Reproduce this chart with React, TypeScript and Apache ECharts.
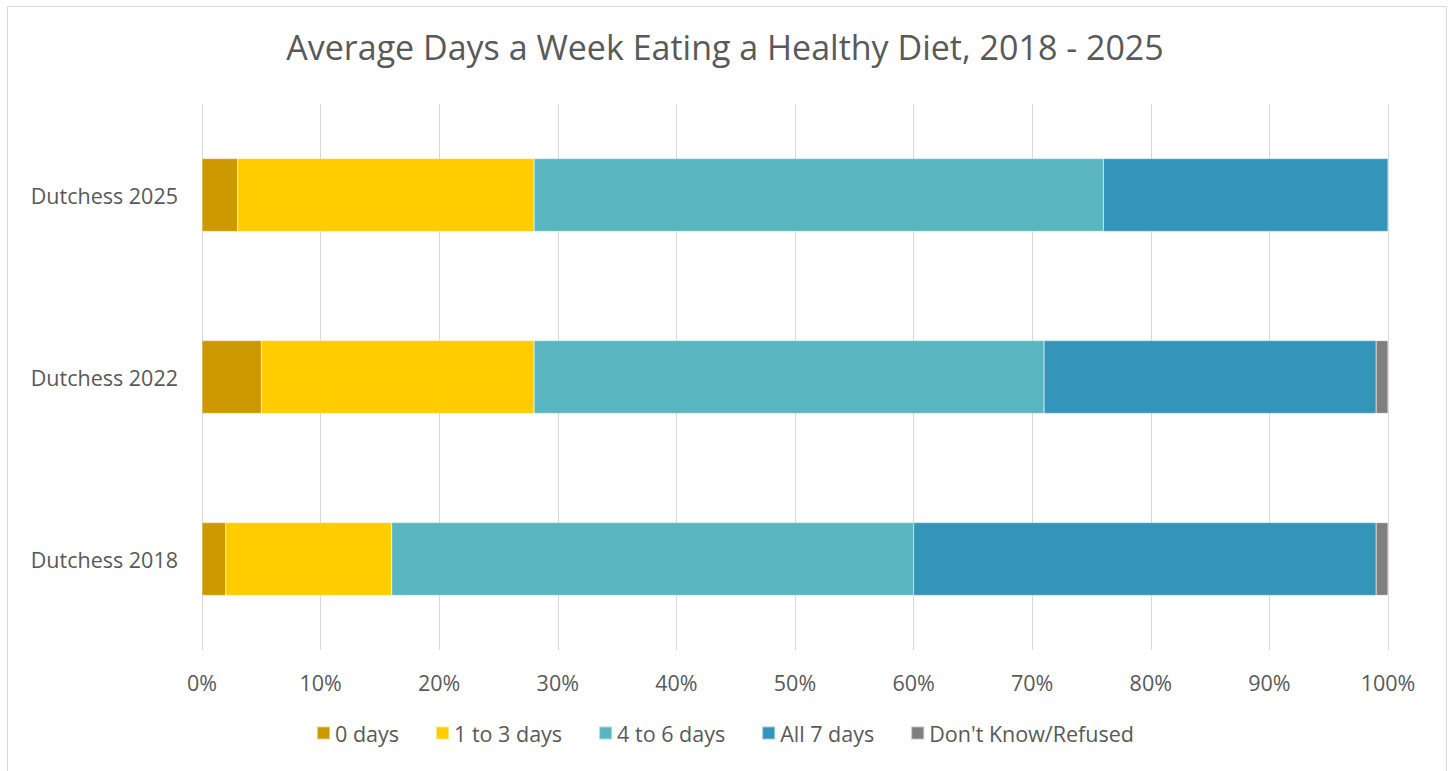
import React, { useEffect, useRef } from "react";
import * as echarts from "echarts";

const categories = ["Dutchess 2018", "Dutchess 2022", "Dutchess 2025"];
const seriesNames = ["0 days", "1 to 3 days", "4 to 6 days", "All 7 days", "Don't Know/Refused"];
const zeroDays = [2, 5, 3];
const oneToThree = [14, 23, 25];
const fourToSix = [44, 43, 48];
const allSeven = [39, 28, 24];
const dontKnow = [1, 1, 0.1];
const colors = ["#CC9900", "#FFCC00", "#59B6C0", "#3594BA", "#7F7F7F"];

const FONT = "Open Sans";

export default function App() {
  const ref = useRef<HTMLDivElement>(null);
  useEffect(() => {
    if (!ref.current) return;
    const chart = echarts.init(ref.current, null, { renderer: "svg" });
    const values = [zeroDays, oneToThree, fourToSix, allSeven, dontKnow];
    chart.setOption({
      animation: false,
      backgroundColor: "#ffffff",
      title: {
        text: "Average Days a Week Eating a Healthy Diet, 2018 - 2025",
        left: "center",
        top: 25,
        textStyle: { fontFamily: FONT, fontSize: 34, fontWeight: "normal", color: "#595959" },
      },
      graphic: [
        {
          type: "rect",
          shape: { x: 7.5, y: 6.5, width: 1439, height: 780 },
          style: { fill: "none", stroke: "#d9d9d9", lineWidth: 1 },
          silent: true,
        },
      ],
      legend: {
        bottom: 22,
        left: "center",
        itemWidth: 13,
        itemHeight: 13,
        itemGap: 36,
        icon: "rect",
        textStyle: { fontFamily: FONT, fontSize: 21.5, color: "#595959" },
        data: seriesNames,
      },
      grid: { left: 202, right: 62, top: 104, bottom: 121 },
      xAxis: {
        type: "value",
        min: 0,
        max: 100,
        interval: 10,
        axisLabel: {
          formatter: "{value}%",
          fontFamily: FONT,
          fontSize: 21.5,
          color: "#595959",
          margin: 21,
        },
        axisLine: { show: false },
        axisTick: { show: false },
        splitLine: { show: true, lineStyle: { color: "#d9d9d9", width: 1 } },
      },
      yAxis: {
        type: "category",
        data: categories,
        axisLabel: { fontFamily: FONT, fontSize: 21.5, color: "#595959", margin: 24 },
        axisLine: { show: false },
        axisTick: { show: false },
      },
      series: seriesNames.map((name, i) => ({
        name,
        type: "bar",
        stack: "total",
        barWidth: "40%",
        data: values[i],
        itemStyle: { color: colors[i], borderColor: "rgba(255,255,255,0.5)", borderWidth: 0.5 },
      })),
    });
    return () => chart.dispose();
  }, []);
  return (
    <div
      ref={ref}
      style={{ position: "fixed", left: 0, top: 0, width: 1450, height: 771 }}
    />
  );
}
